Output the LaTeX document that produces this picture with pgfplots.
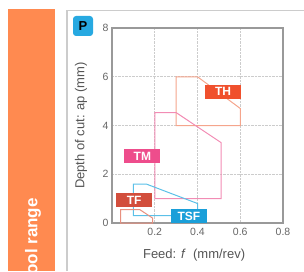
\documentclass[border=0pt]{standalone}
\usepackage{pgfplots}
\pgfplotsset{compat=1.18}
\usepackage{fontspec}
\setmainfont{Liberation Sans}
\definecolor{panel}{HTML}{FF8A50}
\definecolor{frame}{HTML}{CCCCCC}
\definecolor{badge}{HTML}{27A9E1}
\definecolor{thline}{HTML}{F5A58C}
\definecolor{thfill}{HTML}{F0502D}
\definecolor{tmline}{HTML}{F28CB4}
\definecolor{tmfill}{HTML}{EE4D8C}
\definecolor{tsfline}{HTML}{5BC0E8}
\definecolor{tsffill}{HTML}{1A9FD9}
\definecolor{tfline}{HTML}{E8907F}
\definecolor{tffill}{HTML}{D24E3C}
\definecolor{ticktext}{HTML}{666666}
\definecolor{labtext}{HTML}{555555}
\begin{document}
\begin{tikzpicture}
\useasboundingbox (0pt,0pt) rectangle (304pt,271pt);
% left orange panel
\fill[panel] (8pt,0pt) rectangle (55pt,262pt);
\begin{scope}
\clip (8pt,0pt) rectangle (55pt,262pt);
\node[rotate=90, anchor=east, inner sep=0pt, text=white, font=\bfseries\fontsize{17}{19}\selectfont] at (33pt,73pt) {Tool range};
\end{scope}
% frame lines
\draw[frame, line width=1.5pt] (67pt,0pt) -- (67pt,260.5pt) -- (304pt,260.5pt);
% badge
\fill[badge, rounded corners=3pt] (73pt,235pt) rectangle (93pt,255pt);
\node[text=black, font=\bfseries\fontsize{13}{15}\selectfont] at (83pt,245pt) {P};
\begin{axis}[
  at={(112pt,48pt)}, anchor=south west,
  scale only axis, width=171pt, height=195pt,
  xmin=0, xmax=0.8, ymin=0, ymax=8,
  xtick={0.2,0.4,0.6,0.8}, ytick={0,2,4,6,8},
  xticklabels={0.2,0.4,0.6,0.8},
  major tick length=0pt,
  grid=major,
  major grid style={densely dotted, color=frame, line width=0.8pt},
  axis line style={color=gray!80, line width=1.2pt},
  /pgf/number format/assume math mode=true,
  tick label style={font=\fontsize{10.5}{12}\selectfont, text=ticktext},
  xticklabel style={yshift=-2pt},
  label style={font=\fontsize{13}{15}\selectfont, text=labtext},
  xlabel={Feed: \textit{f}\ \ (mm/rev)},
  ylabel={Depth of cut: ap (mm)},
  xlabel style={at={(axis description cs:0.48,-0.164)}, anchor=center},
  ylabel style={at={(axis description cs:-0.181,0.5)}, anchor=center},
  clip=false,
  axis on top=false,
]
\addplot[draw=thline, line width=1pt] coordinates {(0.3,4) (0.3,6) (0.4,6) (0.6,4.7) (0.6,4)} -- cycle;
\addplot[draw=tmline, line width=1pt] coordinates {(0.2,1) (0.2,4.53) (0.3,4.53) (0.51,3.3) (0.51,1)} -- cycle;
\addplot[draw=tsfline, line width=1pt] coordinates {(0.1,0.3) (0.1,1.6) (0.16,1.6) (0.4,0.8) (0.4,0.3)} -- cycle;
\addplot[draw=tfline, line width=1pt] coordinates {(0.04,0) (0.04,0.55) (0.13,0.55) (0.19,0.2) (0.19,0)} -- cycle;
\node[fill=thfill, text=white, minimum width=36pt, minimum height=14pt, inner sep=0pt, font=\bfseries\fontsize{12}{14}\selectfont] at (axis cs:0.52,5.39) {TH};
\node[fill=tmfill, text=white, minimum width=36pt, minimum height=14pt, inner sep=0pt, font=\bfseries\fontsize{12}{14}\selectfont] at (axis cs:0.142,2.75) {TM};
\node[fill=tffill, text=white, minimum width=36pt, minimum height=14pt, inner sep=0pt, font=\bfseries\fontsize{12}{14}\selectfont] at (axis cs:0.104,0.93) {TF};
\node[fill=tsffill, text=white, minimum width=36pt, minimum height=14pt, inner sep=0pt, font=\bfseries\fontsize{12}{14}\selectfont] at (axis cs:0.36,0.27) {TSF};
\end{axis}
\end{tikzpicture}
\end{document}
